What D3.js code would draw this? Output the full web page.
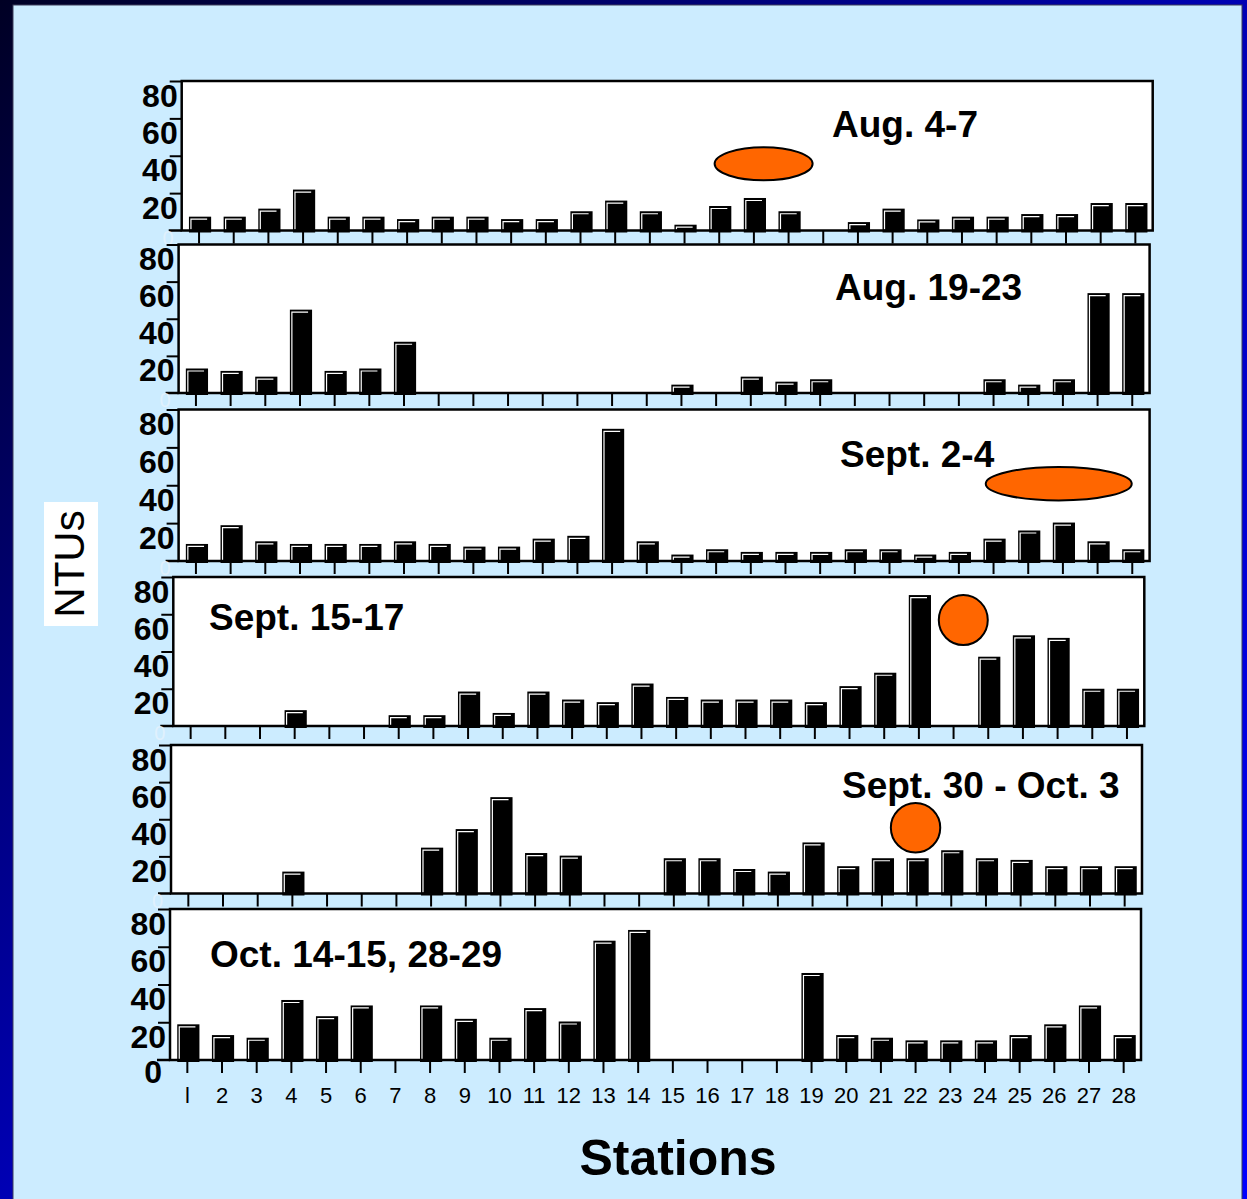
<!DOCTYPE html>
<html>
    <head>
        <title>NTUs by station</title>
        <script src="https://d3js.org/d3.v7.min.js"></script>
        <style>
            body { margin:0; }
            svg { display:block; }
            text { font-family:"Liberation Sans", Arial, sans-serif; }
        </style>
    </head>
    <body>
        <svg id="chart"></svg>
    </body>
    <script>
        // station tick labels (the first one is drawn as a plain bar in the original)
        const stationLabels = ['l','2','3','4','5','6','7','8','9','10','11','12','13','14',
                               '15','16','17','18','19','20','21','22','23','24','25','26','27','28'];
        const periods = ['Aug. 4-7', 'Aug. 19-23', 'Sept. 2-4', 'Sept. 15-17', 'Sept. 30 - Oct. 3', 'Oct. 14-15, 28-29'];
        const yTicks = [20, 40, 60, 80];

        // NTU per station, one array per sampling period
        const aug4  = [7.4, 7.4, 11.7, 21.9, 7.4, 7.4, 6.1, 7.4, 7.4, 6.1, 6.1, 10.3, 16.0, 10.3, 3.1, 13.1, 17.4, 10.3, 0, 4.5, 11.7, 5.9, 7.4, 7.4, 8.8, 8.8, 14.7, 14.7];
        const aug19 = [13.2, 11.9, 8.8, 44.9, 11.9, 13.2, 27.6, 0, 0, 0, 0, 0, 0, 0, 4.5, 0, 8.8, 6.1, 7.4, 0, 0, 0, 0, 7.4, 4.5, 7.4, 53.8, 53.8];
        const sep2  = [9.0, 18.9, 10.4, 9.0, 9.0, 9.0, 10.4, 9.0, 7.6, 7.6, 11.8, 13.3, 69.8, 10.4, 3.4, 6.2, 4.8, 4.8, 4.8, 6.2, 6.2, 3.4, 4.8, 11.8, 16.1, 20.3, 10.4, 6.2];
        const sep15 = [0, 0, 0, 8.5, 0, 0, 5.8, 5.8, 18.5, 7.0, 18.5, 14.2, 12.8, 22.8, 15.6, 14.2, 14.2, 14.2, 12.8, 21.4, 28.6, 70.3, 0, 37.2, 48.7, 47.3, 20.0, 20.0];
        const sep30 = [0, 0, 0, 11.8, 0, 0, 0, 24.7, 34.7, 51.9, 21.8, 20.4, 0, 0, 19.0, 19.0, 13.2, 11.8, 27.5, 14.7, 19.0, 19.0, 23.3, 19.0, 18.1, 14.7, 14.7, 14.7];
        const oct14 = [18.9, 13.2, 11.8, 31.8, 23.2, 28.9, 0, 28.9, 21.8, 11.8, 27.5, 20.4, 63.2, 68.9, 0, 0, 0, 0, 46.1, 13.2, 11.8, 10.4, 10.4, 10.4, 13.2, 18.9, 28.9, 13.2];
        const series = [aug4, aug19, sep2, sep15, sep30, oct14];

        // panel placement (the original panels are pasted slightly out of line)
        const panels = [
            { left:181.7, top:81,    base:230.5, tx:832, ty:137 },
            { left:178.6, top:244.5, base:393,   tx:835, ty:300 },
            { left:178.6, top:409.5, base:561,   tx:840, ty:467 },
            { left:173.3, top:577,   base:726,   tx:209, ty:630 },
            { left:171,   top:745,   base:893.5, tx:842, ty:798 },
            { left:170,   top:909,   base:1060,  tx:210, ty:967 }
        ];
        const innerWidth = 971;

        // orange spots drawn on some panels, in station / NTU units
        const spots = [
            { panel:0, station:17.28, ntu:35.7, rx:49, ry:16.5 },
            { panel:2, station:25.88, ntu:40.8, rx:73, ry:16.7 },
            { panel:3, station:23.28, ntu:56.9, rx:24.5, ry:25 },
            { panel:4, station:21.97, ntu:35.4, rx:24.7, ry:24.7 }
        ];

        const width = 1247, height = 1199;
        const svg = d3.select('#chart').attr('width', width).attr('height', height);

        // dark blue slide border + light blue slide
        const grad = svg.append('defs').append('linearGradient')
            .attr('id', 'border').attr('x1', 0).attr('y1', 0).attr('x2', 1).attr('y2', 1);
        grad.append('stop').attr('offset', 0).attr('stop-color', '#000024');
        grad.append('stop').attr('offset', 0.5).attr('stop-color', '#0000b4');
        grad.append('stop').attr('offset', 1).attr('stop-color', '#0000ff');
        svg.append('rect').attr('width', width).attr('height', height).attr('fill', 'url(#border)');
        svg.append('rect').attr('x', 13).attr('y', 5).attr('width', 1229).attr('height', 1200)
            .attr('fill', '#ccecff').attr('stroke', '#3c3c5a').attr('stroke-width', 1);

        const x = d3.scaleBand().domain(stationLabels).range([0, innerWidth])
                    .paddingInner(0.36).paddingOuter(0.18);
        const xs = d3.scaleLinear().domain([0.5, 28.5]).range([0, innerWidth]);
        const bw = x.bandwidth();

        panels.forEach((p, i) => {
            const y = d3.scaleLinear().domain([0, 80]).range([p.base, p.top]);
            const g = svg.append('g').attr('transform', `translate(${p.left},0)`);
            const last = i === panels.length - 1;

            g.append('rect')
                .attr('x', 0).attr('y', p.top)
                .attr('width', innerWidth).attr('height', p.base - p.top)
                .attr('fill', 'white');

            // bars
            const data = series[i].map((v, k) => ({ station: stationLabels[k], v: v })).filter(d => d.v > 0);
            g.selectAll('rect.bar').data(data).enter().append('rect')
                .attr('class', 'bar')
                .attr('x', d => x(d.station) + 1)
                .attr('y', d => y(d.v))
                .attr('width', bw)
                .attr('height', d => p.base - y(d.v) + 2)
                .attr('fill', 'black');
            g.selectAll('path.hl').data(data).enter().append('path')
                .attr('class', 'hl')
                .attr('d', d => {
                    const x0 = x(d.station) + 3, y0 = y(d.v) + 2.5;
                    return `M${x0},${p.base - 1}V${y0}H${x0 + bw - 6}`;
                })
                .attr('fill', 'none').attr('stroke', 'white').attr('stroke-width', 1.2);

            // frame
            g.append('rect')
                .attr('x', 0).attr('y', p.top)
                .attr('width', innerWidth).attr('height', p.base - p.top)
                .attr('fill', 'none').attr('stroke', 'black').attr('stroke-width', 2.5);
            g.append('line')
                .attr('x1', -13).attr('x2', 0).attr('y1', p.base).attr('y2', p.base)
                .attr('stroke', 'black').attr('stroke-width', 2.5);

            // x axis (labels only on the bottom panel)
            const xAxis = g.append('g')
                .attr('transform', `translate(0,${p.base})`)
                .call(d3.axisBottom(x).tickSize(13).tickPadding(14).tickFormat(last ? d => d : () => ''));
            xAxis.select('.domain').remove();
            xAxis.selectAll('line').attr('stroke', 'black').attr('stroke-width', 2);
            xAxis.selectAll('text').attr('fill', 'black')
                .style('font-size', '22px').style('font-family', '"Liberation Sans", Arial, sans-serif');

            // y axis
            const yAxis = g.append('g')
                .call(d3.axisLeft(y).tickValues(yTicks).tickSize(12).tickPadding(-8));
            yAxis.select('.domain').remove();
            yAxis.selectAll('line').attr('stroke', 'black').attr('stroke-width', 2);
            yAxis.selectAll('text').attr('fill', 'black').attr('dy', 25)
                .style('font-size', '32px').style('font-weight', 'bold')
                .style('font-family', '"Liberation Sans", Arial, sans-serif');

            // zero label: faint on the upper panels, solid on the bottom one
            g.append('text')
                .attr('x', last ? -8 : -8)
                .attr('y', last ? p.base + 23 : p.base + 14)
                .attr('text-anchor', 'end')
                .attr('fill', last ? 'black' : '#e0f1fd')
                .style('font-size', last ? '32px' : '20px')
                .style('font-weight', last ? 'bold' : 'normal')
                .text('0');

            // spots
            g.selectAll('ellipse').data(spots.filter(s => s.panel === i)).enter().append('ellipse')
                .attr('cx', s => xs(s.station))
                .attr('cy', s => y(s.ntu))
                .attr('rx', s => s.rx).attr('ry', s => s.ry)
                .attr('fill', '#ff6600').attr('stroke', 'black').attr('stroke-width', 2);

            // period title
            svg.append('text')
                .attr('x', p.tx).attr('y', p.ty)
                .style('font-size', '37px').style('font-weight', 'bold')
                .text(periods[i]);
        });

        // axis titles
        svg.append('rect').attr('x', 44).attr('y', 502).attr('width', 54).attr('height', 124).attr('fill', 'white');
        svg.append('text')
            .attr('transform', 'translate(84,564) rotate(-90)')
            .attr('text-anchor', 'middle')
            .style('font-size', '42px')
            .text('NTUs');
        svg.append('text')
            .attr('x', 678).attr('y', 1175)
            .attr('text-anchor', 'middle')
            .style('font-size', '50px').style('font-weight', 'bold')
            .text('Stations');
    </script>
</html>
